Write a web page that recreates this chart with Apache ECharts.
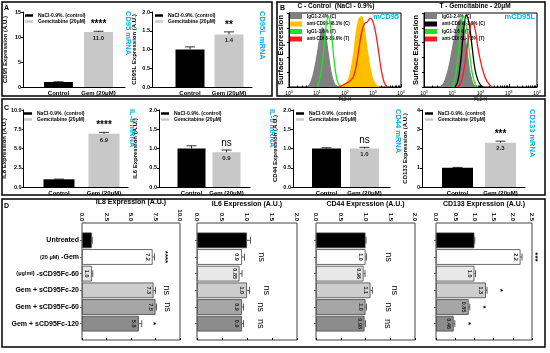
<!DOCTYPE html>
<html><head><meta charset="utf-8">
<script src="https://cdn.jsdelivr.net/npm/echarts@6/dist/echarts.min.js"></script>
<style>html,body{margin:0;padding:0;background:#fff}#c{width:550px;height:353px}</style>
</head><body><div id="c"></div><script>
// ---------- DATA ----------
const groups = ['Control', 'Gem (20μM)'];
const barSeriesNames = ['NaCl-0.9%. (control)', 'Gemcitabine (20μM)'];
const cd95Vals = [1.0, 11.0],  cd95Err = [0.05, 0.15];
const cd95lVals = [1.0, 1.4],  cd95lErr = [0.07, 0.07];
const il8Vals = [1.0, 6.9],    il8Err = [0.03, 0.2];
const il6Vals = [1.0, 0.9],    il6Err = [0.07, 0.06];
const cd44Vals = [1.0, 1.0],   cd44Err = [0.02, 0.03];
const cd133Vals = [1.0, 2.3],  cd133Err = [0.02, 0.08];

// flow cytometry bins (FL2-H channel) and counts (% of max)
const flChannels = [3.16,3.98,5.01,6.31,7.94,10,12.6,15.8,20,25.1,31.6,39.8,50.1,63.1,79.4,100,126,158,200,251,316,398,501,631,794,1000,1259,1585,1995,2512,3162,3981];
const ctlIgG1C   = [null,null,0,8,22,42,65,80,70,45,20,6,0,null,null,null,null,null,null,null,null,null,null,null,null,null,null,null,null,null,null,null];
const ctlAntiC   = [null,null,null,null,null,null,null,null,null,null,null,null,null,0,2,4,8,20,42,72,92,95,75,48,25,10,3,0,null,null,null,null];
const ctlIgG1T   = [null,null,null,null,null,0,10,35,75,95,78,40,12,2,0,null,null,null,null,null,null,null,null,null,null,null,null,null,null,null,null,null];
const ctlAntiT   = [null,null,null,null,null,null,null,null,null,null,null,null,null,0,2,4,6,9,14,28,52,75,86,88,93,88,72,48,22,6,0,null];
const gemIgG1C   = [null,0,5,15,30,50,70,85,92,80,55,25,8,0,null,null,null,null,null,null,null,null,null,null,null,null,null,null,null,null,null,null];
const gemAntiC   = [null,null,null,null,null,null,0,8,35,75,97,85,55,25,10,3,0,null,null,null,null,null,null,null,null,null,null,null,null,null,null,null];
const gemIgG1T   = [null,null,null,null,null,0,12,40,80,96,82,50,20,5,0,null,null,null,null,null,null,null,null,null,null,null,null,null,null,null,null,null];
const gemAntiT   = [null,null,null,null,null,null,null,0,5,20,45,72,88,80,55,35,20,10,4,0,null,null,null,null,null,null,null,null,null,null,null,null];

// panel D
const dGroups = ['Untreated','(20 μM) -Gem','(μg/ml) -sCD95Fc-60','Gem + sCD95Fc-20','Gem + sCD95Fc-60','Gem + sCD95Fc-120'];
const il8D = [1.0, 7.2, 1.0, 7.3, 7.5, 5.8],      il8DErr = [0.05, 0.2, 0.1, 0.2, 0.1, 0.3];
const il8DLbl = ['', '7.2', '1.0', '7.3', '7.5', '5.8'], il8DSig = ['', '****', '', 'ns', 'ns', '*'];
const il6D = [1.0, 0.9, 0.85, 1.0, 0.9, 0.9],     il6DErr = [0.07, 0.05, 0.05, 0.05, 0.03, 0.03];
const il6DLbl = ['', '0.9', '0.85', '1.0', '0.9', '0.9'], il6DSig = ['', 'ns', '', 'ns', 'ns', 'ns'];
const cd44D = [1.0, 1.0, 0.96, 1.1, 1.0, 0.98],   cd44DErr = [0.01, 0.02, 0.03, 0.04, 0.02, 0.02];
const cd44DLbl = ['', '1.0', '0.96', '1.1', '1.0', '0.98'], cd44DSig = ['', 'ns', '', 'ns', 'ns', 'ns'];
const cd133D = [1.0, 2.2, 1.0, 1.3, 0.85, 0.46],  cd133DErr = [0.01, 0.04, 0.03, 0.03, 0.03, 0.03];
const cd133DLbl = ['', '2.2', '1.0', '1.3', '0.85', '0.46'], cd133DSig = ['', '***', '', '*', '*', '*'];

// ---------- BUILD ----------
const FF = '"Liberation Sans", Arial, sans-serif';
const dColors = ['#000000', '#ffffff', '#e8e8e8', '#cdcdcd', '#a6a6a6', '#8c8c8c'];
const grids = [], xAxis = [], yAxis = [], series = [], legend = [], graphic = [];
function push(a, o) { a.push(o); return a.length - 1; }
function txt(o) { return Object.assign({ fontFamily: FF, color: '#000', fontWeight: 'bold' }, o); }

function vErr(c) {
  return function (params, api) {
    const i = api.value(0), v = api.value(1), e = api.value(2);
    const a = api.coord([i, v]), b = api.coord([i, v + e]);
    const ch = [
      { type: 'line', shape: { x1: a[0], y1: a[1], x2: b[0], y2: b[1] }, style: { stroke: '#000', lineWidth: 0.8 } },
      { type: 'line', shape: { x1: b[0] - 5, y1: b[1], x2: b[0] + 5, y2: b[1] }, style: { stroke: '#000', lineWidth: 0.8 } }
    ];
    if (params.dataIndex === 1 && c.sig) {
      ch.push({ type: 'text', x: b[0], y: b[1] - 2, style: { text: c.sig, align: 'center', verticalAlign: 'bottom', textAlign: 'center', textVerticalAlign: 'bottom', fontSize: 10, fontWeight: c.sig === 'ns' ? 'normal' : 'bold', fontFamily: FF, fill: '#000' } });
    }
    return { type: 'group', children: ch };
  };
}

function vbar(c) {
  const gF = push(grids, { left: c.fx, top: c.top, width: c.fw, height: c.h });
  push(xAxis, { type: 'category', gridIndex: gF, data: [''], axisLine: { show: true, lineStyle: { color: '#000', width: 1 } }, axisTick: { show: false }, axisLabel: { show: false } });
  push(yAxis, { type: 'value', gridIndex: gF, min: 0, max: c.max, interval: c.step,
    axisLine: { show: true, lineStyle: { color: '#000', width: 1 } }, axisTick: { show: true, length: 2, lineStyle: { color: '#000' } },
    splitLine: { show: false },
    axisLabel: txt({ fontSize: 5.5, margin: 2, formatter: v => v.toFixed(c.dec) }),
    name: c.yName, nameLocation: 'middle', nameGap: c.nameGap, nameTextStyle: txt({ fontSize: 6 }) });
  const gB = push(grids, { left: c.bx, top: c.top, width: c.bw, height: c.h });
  const xb = push(xAxis, { type: 'category', gridIndex: gB, data: groups, axisLine: { show: false }, axisTick: { show: false },
    axisLabel: txt({ fontSize: 6, margin: 3, interval: 0, hideOverlap: false }) });
  const yb = push(yAxis, { type: 'value', gridIndex: gB, min: 0, max: c.max, show: false });
  series.push({ type: 'bar', name: barSeriesNames[0], xAxisIndex: xb, yAxisIndex: yb, data: [c.vals[0], '-'], barWidth: c.barW, barGap: '-100%', itemStyle: { color: '#000' } });
  series.push({ type: 'bar', name: barSeriesNames[1], xAxisIndex: xb, yAxisIndex: yb, data: ['-', c.vals[1]], barWidth: c.barW, barGap: '-100%', itemStyle: { color: '#c8c8c8' },
    label: txt({ show: true, position: 'insideTop', distance: 3, fontSize: 6, color: '#222', formatter: p => p.value.toFixed(1) }) });
  series.push({ type: 'custom', xAxisIndex: xb, yAxisIndex: yb, silent: true, z: 5, data: c.vals.map((v, i) => [i, v, c.err[i]]), renderItem: vErr(c) });
  legend.push({ left: c.lx, top: c.top + 1, orient: 'vertical', padding: 0, itemGap: 1, itemWidth: 8, itemHeight: 2.5, icon: 'rect', selectedMode: false,
    data: barSeriesNames, textStyle: txt({ fontSize: 5 }) });
  graphic.push({ type: 'text', x: c.mx, y: c.top - 1, rotation: -Math.PI / 2,
    style: { text: c.mrna, fill: '#00b0f0', font: 'bold 7.5px ' + FF, align: 'left', verticalAlign: 'middle', textAlign: 'left', textVerticalAlign: 'middle' } });
}

function hErr(c) {
  return function (params, api) {
    const v = api.value(0), i = api.value(1), e = api.value(2);
    const a = api.coord([v, i]), b = api.coord([v + e, i]);
    const ch = [
      { type: 'line', shape: { x1: a[0], y1: a[1], x2: b[0], y2: b[1] }, style: { stroke: '#333', lineWidth: 0.8 } },
      { type: 'line', shape: { x1: b[0], y1: b[1] - 3.5, x2: b[0], y2: b[1] + 3.5 }, style: { stroke: '#333', lineWidth: 0.8 } }
    ];
    const s = c.sig[params.dataIndex];
    if (s) {
      ch.push({ type: 'text', x: b[0] + c.sigOff, y: b[1], rotation: -Math.PI / 2,
        style: { text: s, align: 'center', verticalAlign: 'middle', textAlign: 'center', textVerticalAlign: 'middle', fontSize: s === 'ns' ? 9 : 8, fontWeight: s === 'ns' ? 'normal' : 'bold', fontFamily: FF, fill: '#000' } });
    }
    return { type: 'group', children: ch };
  };
}

function hbar(c) {
  const gF = push(grids, { left: c.l, top: 223, width: c.w, height: 117, show: true, borderColor: '#444', borderWidth: 1 });
  push(xAxis, { type: 'value', gridIndex: gF, position: 'top', min: 0, max: c.max, interval: c.step,
    axisLine: { show: false }, axisTick: { show: true, length: 2, lineStyle: { color: '#000' } }, splitLine: { show: false },
    axisLabel: txt({ rotate: -90, fontSize: 6, margin: 2, formatter: v => v.toFixed(1) }),
    name: c.title, nameLocation: 'middle', nameGap: 15, nameTextStyle: txt({ fontSize: 7 }) });
  push(yAxis, { type: 'value', gridIndex: gF, show: false });
  const gB = push(grids, { left: c.l, top: 232, width: c.w, height: 100 });
  const xb = push(xAxis, { type: 'value', gridIndex: gB, min: 0, max: c.max, show: false });
  const yb = push(yAxis, { type: 'category', gridIndex: gB, data: dGroups, inverse: true,
    axisLine: { show: false }, axisTick: { show: true, alignWithLabel: true, length: 2, lineStyle: { color: '#666' } },
    axisLabel: txt({ show: c.cats, fontSize: 7, margin: 3, interval: 0,
      formatter: v => { const m = v.match(/^(\(.*?\))(.*)$/); return m ? '{s|' + m[1] + '}{b|' + m[2] + '}' : '{b|' + v + '}'; },
      rich: { s: { fontSize: 5.5, fontWeight: 'bold', fontFamily: FF }, b: { fontSize: 7, fontWeight: 'bold', fontFamily: FF } } }) });
  series.push({ type: 'bar', xAxisIndex: xb, yAxisIndex: yb, barCategoryGap: '6%',
    data: c.vals.map((v, i) => ({ value: v, itemStyle: { color: dColors[i] } })),
    itemStyle: { borderColor: '#444', borderWidth: 0.8 },
    label: txt({ show: true, position: 'insideRight', rotate: -90, align: 'center', verticalAlign: 'middle', distance: 5, fontSize: 5.5, color: '#222', formatter: p => c.labels[p.dataIndex] }) });
  series.push({ type: 'custom', xAxisIndex: xb, yAxisIndex: yb, silent: true, z: 5, data: c.vals.map((v, i) => [v, i, c.err[i]]), renderItem: hErr(c) });
}

function hist(c) {
  const g = push(grids, { left: c.l, top: 13, width: c.w, height: 74, show: true, borderColor: '#000', borderWidth: 1 });
  const xi = push(xAxis, { type: 'log', gridIndex: g, min: 1, max: 10000, logBase: 10,
    axisLine: { lineStyle: { color: '#000' } }, axisTick: { inside: true, length: 3, lineStyle: { color: '#000' } },
    minorTick: { show: true, splitNumber: 9, length: 1.5, lineStyle: { color: '#000' } }, splitLine: { show: false },
    axisLabel: { fontFamily: FF, color: '#000', fontSize: 5, margin: 3, formatter: v => '10{s|' + Math.round(Math.log10(v)) + '}',
      rich: { s: { fontSize: 3.5, fontFamily: FF, padding: [0, 0, 4, 0] } } },
    name: 'FL2-H', nameLocation: 'middle', nameGap: 9, nameTextStyle: { fontFamily: FF, fontSize: 4.5, color: '#000' } });
  const yi = push(yAxis, { type: 'value', gridIndex: g, min: 0, max: 100, interval: 20,
    axisLabel: { show: false }, axisTick: { show: true, length: 2, lineStyle: { color: '#000' } }, axisLine: { show: true, lineStyle: { color: '#000' } }, splitLine: { show: false },
    name: 'Surface Expression', nameLocation: 'middle', nameGap: 4, nameTextStyle: txt({ fontSize: 7.5 }) });
  c.curves.forEach((cv, k) => series.push({ type: 'line', name: cv.name, xAxisIndex: xi, yAxisIndex: yi, smooth: 0.4, symbol: 'none', z: 2 + k,
    data: flChannels.map((x, i) => [x, cv.data[i] == null ? '-' : cv.data[i]]),
    lineStyle: { color: cv.color, width: 1.3 }, itemStyle: { color: cv.color },
    areaStyle: cv.fill ? { color: cv.color, opacity: 1 } : undefined }));
  legend.push({ left: c.l + 1, top: 14, orient: 'vertical', padding: 0, itemGap: 2.5, itemWidth: 12, itemHeight: 5, icon: 'rect', selectedMode: false,
    data: c.curves.map(cv => cv.name), textStyle: txt({ fontSize: 4.5 }) });
  graphic.push({ type: 'text', x: c.l + c.w - 2, y: 17, style: { text: c.tag, fill: '#00b0f0', font: 'bold 7.5px ' + FF, align: 'right', verticalAlign: 'middle', textAlign: 'right', textVerticalAlign: 'middle' } });
  graphic.push({ type: 'text', x: c.tx, y: 6, style: { text: c.title, fill: '#000', font: 'bold 6.5px ' + FF, align: 'center', verticalAlign: 'middle', textAlign: 'center', textVerticalAlign: 'middle' } });
}

// Panel A
vbar({ fx: 23, fw: 102, bx: 38.5, bw: 80, top: 12, h: 75, max: 15, step: 5, dec: 0, vals: cd95Vals, err: cd95Err, sig: '****', yName: 'CD95 Expression (A.U.)', nameGap: 15, barW: 29, lx: 25, mx: 128, mrna: 'CD95 mRNA' });
vbar({ fx: 152, fw: 100, bx: 170.5, bw: 78, top: 12, h: 75, max: 2, step: 0.5, dec: 1, vals: cd95lVals, err: cd95lErr, sig: '**', yName: 'CD95L Expression (A.U.)', nameGap: 15, barW: 29, lx: 155, mx: 262, mrna: 'CD95L mRNA' });
// Panel B
const GRAY = '#808080', ORANGE = '#ffbf00', GREEN = '#19e619', RED = '#ff1a1a';
hist({ l: 289, w: 112, tx: 336, title: 'C - Control  (NaCl - 0.9%)', tag: 'mCD95', curves: [
  { name: 'IgG1-2.4% (C)', data: ctlIgG1C, color: GRAY, fill: true },
  { name: 'anti-CD95-48.1% (C)', data: ctlAntiC, color: ORANGE, fill: true },
  { name: 'IgG1-3.6% (T)', data: ctlIgG1T, color: GREEN },
  { name: 'anti-CD95-89.6% (T)', data: ctlAntiT, color: RED } ] });
hist({ l: 424, w: 113, tx: 475, title: 'T - Gemcitabine - 20μM', tag: 'mCD95L', curves: [
  { name: 'IgG1-2.4% (C)', data: gemIgG1C, color: GRAY, fill: true },
  { name: 'anti-CD95L-3.9% (C)', data: gemAntiC, color: '#000000' },
  { name: 'IgG1-3.6% (T)', data: gemIgG1T, color: GREEN },
  { name: 'anti-CD95L-7.6% (T)', data: gemAntiT, color: RED } ] });
// Panel C
vbar({ fx: 21, fw: 107, bx: 36.5, bw: 90, top: 110, h: 77, max: 10, step: 2.5, dec: 1, vals: il8Vals, err: il8Err, sig: '****', yName: 'IL8 Expression (A.U.)', nameGap: 15, barW: 31, lx: 24, mx: 132, mrna: 'IL-8 mRNA' });
vbar({ fx: 159, fw: 91, bx: 174, bw: 70, top: 110, h: 77, max: 2, step: 0.5, dec: 1, vals: il6Vals, err: il6Err, sig: 'ns', yName: 'IL6 Expression (A.U.)', nameGap: 21, barW: 28, lx: 161, mx: 272, mrna: 'IL-6 mRNA' });
vbar({ fx: 293, fw: 97, bx: 307.5, bw: 76, top: 110, h: 77, max: 2, step: 0.5, dec: 1, vals: cd44Vals, err: cd44Err, sig: 'ns', yName: 'CD44 Expression (A.U.)', nameGap: 15, barW: 29, lx: 296, mx: 398, mrna: 'CD44 mRNA' });
vbar({ fx: 422, fw: 103, bx: 436, bw: 86, top: 110, h: 77, max: 4, step: 1, dec: 0, vals: cd133Vals, err: cd133Err, sig: '***', yName: 'CD133 Expression (A.U.)', nameGap: 14, barW: 31, lx: 425, mx: 532, mrna: 'CD133 mRNA' });
// Panel D
hbar({ l: 82, w: 98, max: 10, step: 2.5, title: 'IL8 Expression (A.U.)', vals: il8D, err: il8DErr, labels: il8DLbl, sig: il8DSig, sigOff: 11, cats: true });
hbar({ l: 197, w: 100, max: 2, step: 0.5, title: 'IL6 Expression (A.U.)', vals: il6D, err: il6DErr, labels: il6DLbl, sig: il6DSig, sigOff: 17, cats: false });
hbar({ l: 316, w: 99, max: 2, step: 0.5, title: 'CD44 Expression (A.U.)', vals: cd44D, err: cd44DErr, labels: cd44DLbl, sig: cd44DSig, sigOff: 22, cats: false });
hbar({ l: 436, w: 96, max: 2.5, step: 0.5, title: 'CD133 Expression (A.U.)', vals: cd133D, err: cd133DErr, labels: cd133DLbl, sig: cd133DSig, sigOff: 13, cats: false });

// panel frames and letters
[[2, 2, 270, 94], [277, 2, 268, 94], [2, 99, 543, 96], [2, 199, 543, 148]].forEach(r =>
  graphic.push({ type: 'rect', shape: { x: r[0], y: r[1], width: r[2], height: r[3] }, style: { fill: 'none', stroke: '#000', lineWidth: 1.5 }, z: 100 }));
[['A', 4, 8], ['B', 280, 8], ['C', 4, 108], ['D', 4, 206]].forEach(t =>
  graphic.push({ type: 'text', x: t[1], y: t[2], style: { text: t[0], fill: '#000', font: 'bold 7px ' + FF, align: 'left', verticalAlign: 'middle', textAlign: 'left', textVerticalAlign: 'middle' } }));

const chart = echarts.init(document.getElementById('c'), null, { renderer: 'canvas' });
chart.setOption({ backgroundColor: '#fff', animation: false, grid: grids, xAxis: xAxis, yAxis: yAxis, series: series, legend: legend, graphic: graphic });
</script></body></html>
